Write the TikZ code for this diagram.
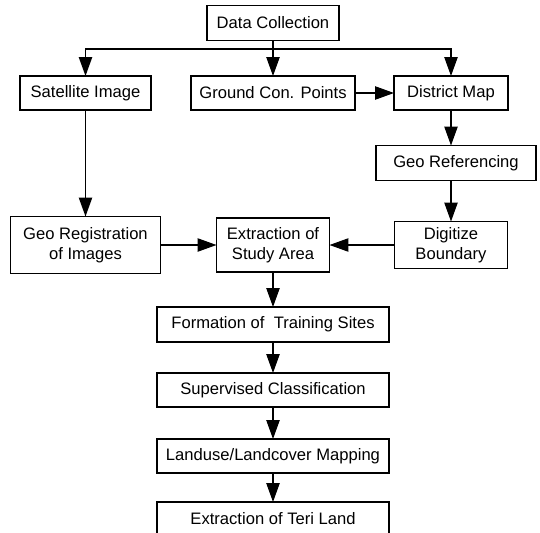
\documentclass[tikz,border=0pt]{standalone}
\usepackage{fontspec}
\setmainfont{Liberation Sans}
\usetikzlibrary{arrows.meta}
\begin{document}
\begin{tikzpicture}[
  x = 0.025cm,
  y = -0.025cm,
  box/.style = {
    shape = rectangle,
    draw = black,
    line width = 0.9pt,
    inner sep = 0pt,
    outer sep = 0pt,
    align = center,
    font = \fontsize{11.8}{14.5}\selectfont,
  },
  flow/.style = {
    line width = 0.9pt,
    -{Triangle[length = 13.5pt, width = 9.5pt]}
  }
]
  \useasboundingbox (0, 0) rectangle (540, 533);

  \node[box, minimum width = 132*0.025cm, minimum height = 35*0.025cm] (data) at (273, 23) {Data Collection};
  \coordinate (split) at (273, 49);

  \node[box, minimum width = 131*0.025cm, minimum height = 34*0.025cm] (sat) at (85.5, 93) {Satellite Image};
  \node[box, minimum width = 164*0.025cm, minimum height = 34*0.025cm] (gcp) at (273, 93) {Ground Con. Points};
  \node[box, minimum width = 114*0.025cm, minimum height = 34*0.025cm] (dmap) at (451, 93) {District Map};
  \node[box, minimum width = 160*0.025cm, minimum height = 35*0.025cm] (georef) at (456, 163) {Geo Referencing};

  \node[box, minimum width = 150*0.025cm, minimum height = 57*0.025cm] (georeg) at (85.5, 245) {Geo Registration\\of Images};
  \node[box, minimum width = 113*0.025cm, minimum height = 54*0.025cm] (study) at (273, 245) {Extraction of\\Study Area};
  \node[box, minimum width = 113*0.025cm, minimum height = 47*0.025cm] (digit) at (451, 245) {Digitize\\Boundary};

  \node[box, minimum width = 232*0.025cm, minimum height = 35*0.025cm] (train) at (273, 324.5) {Formation of~ Training Sites};
  \node[box, minimum width = 232*0.025cm, minimum height = 34*0.025cm] (classif) at (273, 390) {Supervised Classification};
  \node[box, minimum width = 232*0.025cm, minimum height = 34*0.025cm] (lulc) at (273, 456) {Landuse/Landcover Mapping};
  \node[box, minimum width = 232*0.025cm, minimum height = 34*0.025cm] (teri) at (273, 519) {Extraction of Teri Land};

  \draw[line width = 0.9pt] (data) -- (split);
  \draw[flow] (split) -- (gcp);
  \draw[flow] (split) -| (sat);
  \draw[flow] (split) -| (dmap);
  \draw[flow] (gcp) -- (dmap);
  \draw[flow] (dmap) -- (dmap.south |- georef.north);
  \draw[flow] (digit.north |- georef.south) -- (digit);

  \draw[flow] (sat) -- (georeg);
  \draw[flow] (georeg) -- (study);
  \draw[flow] (digit) -- (study);

  \draw[flow] (study) -- (train);
  \draw[flow] (train) -- (classif);
  \draw[flow] (classif) -- (lulc);
  \draw[flow] (lulc) -- (teri);
\end{tikzpicture}
\end{document}
